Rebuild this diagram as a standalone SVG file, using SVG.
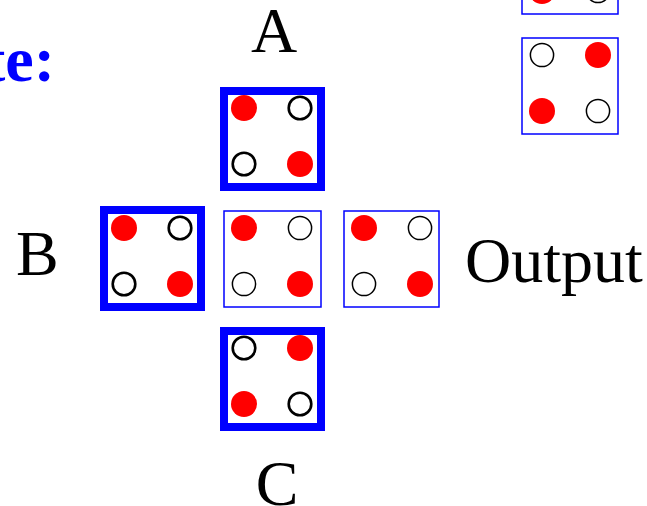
<svg xmlns="http://www.w3.org/2000/svg" width="647" height="506" viewBox="0 0 647 506">
  <style>
    .label { font-family: "Liberation Serif", "Times New Roman", serif; font-size: 64px; fill: #000; }
    .title { font-family: "Liberation Serif", "Times New Roman", serif; font-size: 64px; font-weight: bold; fill: #0000ff; }
    .thick { fill: #fff; stroke: #0000ff; stroke-width: 8; }
    .thin { fill: #fff; stroke: #0000ff; stroke-width: 1.5; }
    .on { fill: #ff0000; }
    .off-thick { fill: none; stroke: #000; stroke-width: 2.6; }
    .off-thin { fill: none; stroke: #000; stroke-width: 1.5; }
  </style>

  <rect width="647" height="506" fill="#fff"/>

  <text class="title" x="55" y="81" text-anchor="end">te:</text>

  <!-- Legend tiles, upper right -->
  <g id="legend-1">
    <rect class="thin" x="522" y="-82" width="96" height="96"/>
    <circle class="on" cx="542" cy="-9" r="13"/>
    <circle class="off-thin" cx="598" cy="-9" r="11.6"/>
  </g>
  <g id="legend-2">
    <rect class="thin" x="522" y="38" width="96" height="96"/>
    <circle class="off-thin" cx="542" cy="55" r="11.6"/>
    <circle class="on" cx="598" cy="55" r="13"/>
    <circle class="on" cx="542" cy="111" r="13"/>
    <circle class="off-thin" cx="598" cy="111" r="11.6"/>
  </g>

  <!-- Input A -->
  <g id="input-A">
    <text class="label" x="274" y="52" text-anchor="middle">A</text>
    <rect class="thick" x="224" y="91" width="97" height="96"/>
    <circle class="on" cx="244" cy="108" r="13"/>
    <circle class="off-thick" cx="300" cy="108" r="11.3"/>
    <circle class="off-thick" cx="244" cy="164" r="11.3"/>
    <circle class="on" cx="300" cy="164" r="13"/>
  </g>

  <!-- Input B -->
  <g id="input-B">
    <text class="label" x="16" y="275">B</text>
    <rect class="thick" x="104" y="210" width="97" height="97"/>
    <circle class="on" cx="124" cy="228" r="13"/>
    <circle class="off-thick" cx="180" cy="228" r="11.3"/>
    <circle class="off-thick" cx="124" cy="284" r="11.3"/>
    <circle class="on" cx="180" cy="284" r="13"/>
  </g>

  <!-- Centre tile -->
  <g id="centre">
    <rect class="thin" x="224" y="211" width="97" height="96"/>
    <circle class="on" cx="244" cy="228" r="13"/>
    <circle class="off-thin" cx="300" cy="228" r="11.6"/>
    <circle class="off-thin" cx="244" cy="284" r="11.6"/>
    <circle class="on" cx="300" cy="284" r="13"/>
  </g>

  <!-- Output -->
  <g id="output">
    <rect class="thin" x="344" y="211" width="95" height="96"/>
    <circle class="on" cx="364" cy="228" r="13"/>
    <circle class="off-thin" cx="420" cy="228" r="11.6"/>
    <circle class="off-thin" cx="364" cy="284" r="11.6"/>
    <circle class="on" cx="420" cy="284" r="13"/>
    <text class="label" x="465" y="282">Output</text>
  </g>

  <!-- Input C -->
  <g id="input-C">
    <rect class="thick" x="224" y="331" width="97" height="96"/>
    <circle class="off-thick" cx="244" cy="348" r="11.3"/>
    <circle class="on" cx="300" cy="348" r="13"/>
    <circle class="on" cx="244" cy="404" r="13"/>
    <circle class="off-thick" cx="300" cy="404" r="11.3"/>
    <text class="label" x="277" y="505" text-anchor="middle">C</text>
  </g>

  <g id="connectors"/>
</svg>
